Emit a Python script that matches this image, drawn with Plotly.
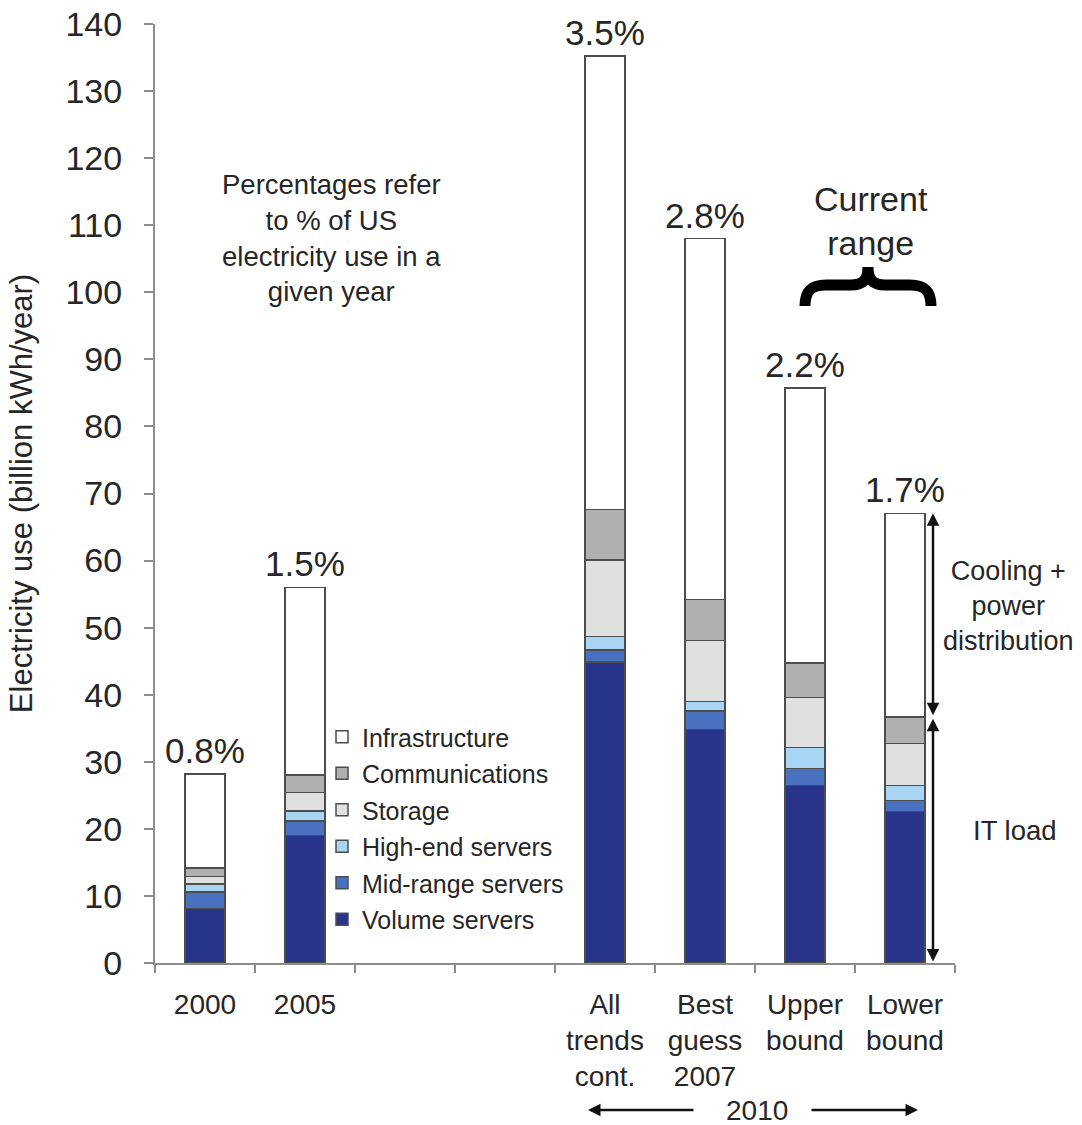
import plotly.graph_objects as go

# ---- data ----
categories = ["2000", "2005", "gap1", "gap2",
              "All trends cont.", "Best guess 2007", "Upper bound", "Lower bound"]
tick_labels = ["2000", "2005", "", "",
               "All<br>trends<br>cont.", "Best<br>guess<br>2007", "Upper<br>bound", "Lower<br>bound"]
volume_servers = [8.15, 19.0, None, None, 44.9, 34.8, 26.5, 22.6]
midrange_servers = [2.45, 2.2, None, None, 1.8, 2.8, 2.5, 1.6]
highend_servers = [1.2, 1.5, None, None, 2.0, 1.4, 3.1, 2.3]
storage = [1.1, 2.7, None, None, 11.4, 9.1, 7.5, 6.25]
communications = [1.3, 2.6, None, None, 7.5, 6.1, 5.1, 3.95]
infrastructure = [14.0, 28.0, None, None, 67.6, 53.8, 41.0, 30.35]
pct_labels = ["0.8%", "1.5%", "", "", "3.5%", "2.8%", "2.2%", "1.7%"]

series = [
    ("Volume servers", volume_servers, "#28358a"),
    ("Mid-range servers", midrange_servers, "#4a71bf"),
    ("High-end servers", highend_servers, "#a9d5f4"),
    ("Storage", storage, "#e0e0e0"),
    ("Communications", communications, "#b0b0b0"),
    ("Infrastructure", infrastructure, "#ffffff"),
]

FONT = "Liberation Sans, Arial, sans-serif"
TXT = "#262626"
AX = "#8c8c8c"

W, H = 1082, 1125
ML, MT = 155, 24
PW, PH = 800, 939
MR, MB = W - ML - PW, H - MT - PH


def px_x(px):
    return (px - ML) / PW


def px_y(py):
    return (H - MB - py) / PH


fig = go.Figure()
n = len(series)
for k, (name, vals, col) in enumerate(series):
    fig.add_trace(go.Bar(
        x=categories, y=vals, name=name, legendgroup=name, legendrank=n - k,
        marker=dict(color=col, line=dict(color="#4d4d4d", width=1.5)),
        width=0.4,
    ))

# totals and IT load
totals = []
it_load = []
for i in range(len(categories)):
    if volume_servers[i] is None:
        totals.append(None)
        it_load.append(None)
        continue
    it = volume_servers[i] + midrange_servers[i] + highend_servers[i] + storage[i] + communications[i]
    it_load.append(it)
    totals.append(it + infrastructure[i])

annotations = []
for i, (t, lab) in enumerate(zip(totals, pct_labels)):
    if t is None or not lab:
        continue
    annotations.append(dict(x=i, y=t, xref="x", yref="y", text=lab, showarrow=False,
                            xanchor="center", yanchor="bottom", yshift=2,
                            font=dict(family=FONT, size=35, color=TXT)))


def text_ann(x, y, text, size):
    return dict(x=px_x(x), y=px_y(y), xref="paper", yref="paper", text=text,
                showarrow=False, xanchor="center", yanchor="middle",
                font=dict(family=FONT, size=size, color=TXT))


annotations.append(text_ann(331, 238, "Percentages refer<br>to % of US<br>electricity use in a<br>given year", 27.5))
annotations.append(text_ann(871, 221, "Current<br>range", 34))
annotations.append(text_ann(1009, 606, "Cooling +<br>power<br>distribution", 27))
annotations.append(text_ann(1015, 830, "IT load", 27.5))
annotations.append(text_ann(757, 1110, "2010", 28))

# vertical double arrows beside the lower-bound bar
lb = len(categories) - 1
arrow_x = px_x(933)
annotations.append(dict(x=arrow_x, y=totals[lb], xref="paper", yref="y",
                        ax=0, ay=it_load[lb], axref="pixel", ayref="y",
                        text="", showarrow=True, arrowhead=2, arrowside="end+start",
                        arrowsize=1, arrowwidth=2.5, arrowcolor="#111111",
                        standoff=0, startstandoff=0))
annotations.append(dict(x=arrow_x, y=it_load[lb] - 0.3, xref="paper", yref="y",
                        ax=0, ay=0, axref="pixel", ayref="y",
                        text="", showarrow=True, arrowhead=2, arrowside="end+start",
                        arrowsize=1, arrowwidth=2.5, arrowcolor="#111111",
                        standoff=0, startstandoff=0))

# 2010 arrows
annotations.append(dict(x=px_x(588), y=px_y(1110), xref="paper", yref="paper",
                        ax=107, ay=0, text="", showarrow=True, arrowhead=2,
                        arrowsize=1, arrowwidth=2.5, arrowcolor="#111111", standoff=0))
annotations.append(dict(x=px_x(918), y=px_y(1110), xref="paper", yref="paper",
                        ax=-108, ay=0, text="", showarrow=True, arrowhead=2,
                        arrowsize=1, arrowwidth=2.5, arrowcolor="#111111", standoff=0))

# curly brace under "Current range"
brace_pts = [
    ("M", 805, 306), ("C", 805, 291, 811, 285, 826, 285), ("L", 851, 285),
    ("C", 863, 285, 868, 280, 868, 267), ("C", 868, 280, 873, 285, 885, 285),
    ("L", 910, 285), ("C", 925, 285, 931, 291, 931, 306),
]
path = ""
for seg in brace_pts:
    cmd, coords = seg[0], seg[1:]
    pairs = []
    for k in range(0, len(coords), 2):
        pairs.append(f"{px_x(coords[k]):.5f},{px_y(coords[k + 1]):.5f}")
    path += cmd + " " + " ".join(pairs) + " "

shapes = [dict(type="path", path=path.strip(), xref="paper", yref="paper",
               line=dict(color="#000000", width=11))]

fig.update_layout(
    width=W, height=H,
    margin=dict(l=ML, r=MR, t=MT, b=MB, autoexpand=False),
    paper_bgcolor="white", plot_bgcolor="white",
    barmode="stack",
    font=dict(family=FONT, color=TXT),
    legend=dict(x=px_x(322), y=px_y(714), xanchor="left", yanchor="top",
                traceorder="grouped", tracegroupgap=1,
                font=dict(family=FONT, size=25, color=TXT),
                bgcolor="rgba(0,0,0,0)", itemclick=False),
    annotations=annotations,
    shapes=shapes,
    xaxis=dict(type="category", categoryorder="array", categoryarray=categories,
               tickvals=categories, ticktext=tick_labels, automargin=False,
               tickson="boundaries", ticks="outside", ticklen=8, tickwidth=1.5,
               tickcolor=AX, showline=True, linecolor=AX, linewidth=2,
               showgrid=False, range=[-0.5, 7.5],
               tickfont=dict(family=FONT, size=28, color=TXT), ticklabelstandoff=15),
    yaxis=dict(range=[0, 140], dtick=10, tick0=0, ticks="outside", ticklen=9,
               tickwidth=1.5, tickcolor=AX, showline=True, linecolor=AX, linewidth=2,
               showgrid=False, zeroline=False, automargin=False,
               ticklabeloverflow="allow",
               tickfont=dict(family=FONT, size=34, color=TXT), ticklabelstandoff=15,
               title=dict(text="Electricity use (billion kWh/year)",
                          font=dict(family=FONT, size=31, color=TXT), standoff=24)),
)

fig.write_html(
    "out.html",
    config={"displayModeBar": False},
    post_script="document.body.style.margin='0px';document.body.style.overflow='hidden';",
)
